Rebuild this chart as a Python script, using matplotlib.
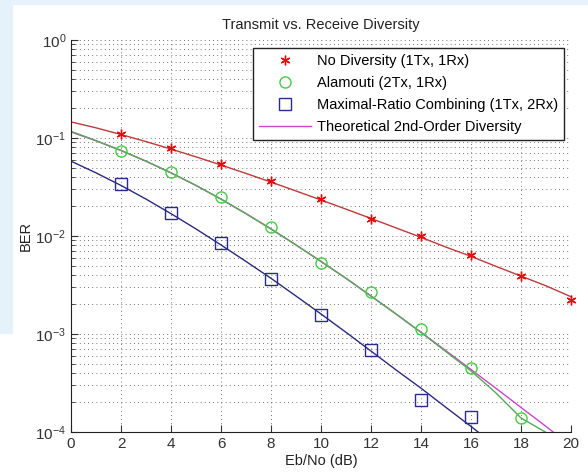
import numpy as np
import matplotlib
matplotlib.use('Agg')
import matplotlib.pyplot as plt
from matplotlib.patches import Rectangle
from matplotlib.ticker import FixedLocator, FixedFormatter, NullFormatter

plt.rcParams['font.family'] = ['Liberation Sans', 'DejaVu Sans']
plt.rcParams['mathtext.fontset'] = 'custom'
plt.rcParams['mathtext.rm'] = 'Liberation Sans'
plt.rcParams['mathtext.it'] = 'Liberation Sans'

# curves (fitted / theoretical), one value per dB
snr_line = [0, 1, 2, 3, 4, 5, 6, 7, 8, 9, 10, 11, 12, 13, 14, 15, 16, 17, 18, 19, 20]
ber_nodiv_line = [0.146, 0.127, 0.1085, 0.0919, 0.0771, 0.0642, 0.053, 0.0435, 0.0355, 0.0288,
                  0.0233, 0.0188, 0.0151, 0.0121, 0.0097, 0.0077, 0.0062, 0.0049, 0.0039,
                  0.0031, 0.0024]
ber_alamouti_line = [0.117, 0.094, 0.0746, 0.058, 0.0441, 0.0328, 0.0238, 0.0169, 0.0118,
                     0.0081, 0.0055, 0.0037, 0.00244, 0.0016, 0.00104, 0.00066, 0.00042,
                     0.00025, 0.000139, 0.000099, 0.00007]
ber_mrc_line = [0.058, 0.0441, 0.0328, 0.0238, 0.0169, 0.0118, 0.0081, 0.0055, 0.0037,
                0.00244, 0.0016, 0.00104, 0.00067, 0.00043, 0.00028, 0.000178, 0.000114,
                0.000072, 0.000046, 0.000029, 0.000018]
ber_theory_line = [0.1152, 0.0937, 0.0746, 0.058, 0.0441, 0.0328, 0.0238, 0.0169, 0.0118,
                   0.0081, 0.0055, 0.0037, 0.00244, 0.0016, 0.00104, 0.000674, 0.000434,
                   0.000279, 0.000178, 0.000114, 0.000072]

# simulated points (only the ones inside the plot)
snr_nodiv = [2, 4, 6, 8, 10, 12, 14, 16, 18, 20]
ber_nodiv = [0.11, 0.079, 0.054, 0.036, 0.024, 0.015, 0.0099, 0.0064, 0.0039, 0.0022]
snr_alamouti = [2, 4, 6, 8, 10, 12, 14, 16, 18]
ber_alamouti = [0.073, 0.045, 0.025, 0.0123, 0.0053, 0.0027, 0.00112, 0.00045, 0.000139]
snr_mrc = [2, 4, 6, 8, 10, 12, 14, 16]
ber_mrc = [0.034, 0.017, 0.0085, 0.0036, 0.00156, 0.00068, 0.000214, 0.000142]

fig = plt.figure(figsize=(5.88, 4.75), dpi=100)
# faint blue background bits at the edges
fig.patches.append(Rectangle((0, 0.30), 0.02, 0.70, transform=fig.transFigure,
                             color='#e6f2fb', zorder=-5))
fig.patches.append(Rectangle((0, 0.992), 1.0, 0.008, transform=fig.transFigure,
                             color='#e6f2fb', zorder=-5))

ax = fig.add_axes([71 / 588, 1 - 432 / 475, 500 / 588, 392 / 475])
ax.set_yscale('log')

ax.plot(snr_line, ber_nodiv_line, color='#c03838', lw=1.0)
ax.plot(snr_line, ber_theory_line, color='#cc44cc', lw=1.0)
ax.plot(snr_line, ber_alamouti_line, color='#55aa55', lw=1.0)
ax.plot(snr_line, ber_mrc_line, color='#2a2a80', lw=1.0)

h1, = ax.plot(snr_nodiv, ber_nodiv, ls='none', marker=(6, 2, 0), color='#e01010', ms=7, mew=1.0,
              clip_on=False, label='No Diversity (1Tx, 1Rx)')
h2, = ax.plot(snr_alamouti, ber_alamouti, 'o', mfc='none', mec='#44cc44', ms=8, mew=1.0,
              clip_on=False, label='Alamouti (2Tx, 1Rx)')
h3, = ax.plot(snr_mrc, ber_mrc, 's', mfc='none', mec='#2a2a90', ms=8, mew=1.0,
              clip_on=False, label='Maximal-Ratio Combining (1Tx, 2Rx)')
h4, = ax.plot([], [], color='#cc44cc', lw=1.0, label='Theoretical 2nd-Order Diversity')

ax.set_xlim(0, 20)
ax.set_ylim(1e-4, 1)
ax.xaxis.set_major_locator(FixedLocator([0, 2, 4, 6, 8, 10, 12, 14, 16, 18, 20]))
ax.yaxis.set_major_locator(FixedLocator([1e-4, 1e-3, 1e-2, 1e-1, 1]))
ax.yaxis.set_major_formatter(FixedFormatter([r'$10^{-4}$', r'$10^{-3}$', r'$10^{-2}$', r'$10^{-1}$', r'$10^{0}$']))
minor = [m * 10.0 ** e for e in range(-4, 0) for m in range(2, 10)]
ax.yaxis.set_minor_locator(FixedLocator(minor))
ax.yaxis.set_minor_formatter(NullFormatter())

ax.grid(True, which='major', color='#444444', ls=(0, (1, 4)), lw=0.6)
ax.grid(True, which='minor', axis='y', color='#444444', ls=(0, (1, 4)), lw=0.6)
ax.tick_params(which='both', direction='in', top=False, right=False, labelsize=11, colors='#333333')
ax.tick_params(which='major', length=5)
ax.tick_params(which='minor', length=3)
ax.spines['top'].set_visible(False)
ax.spines['right'].set_visible(False)
ax.spines['left'].set_color('#222222')
ax.spines['bottom'].set_color('#222222')

ax.set_title('Transmit vs. Receive Diversity', fontsize=10.5, color='#222222', pad=8)
ax.set_xlabel('Eb/No (dB)', fontsize=10.5, color='#222222', labelpad=2)
ax.set_ylabel('BER', fontsize=10.5, color='#222222', labelpad=2)

leg = ax.legend(handles=[h1, h2, h3, h4], loc='upper right', bbox_to_anchor=(0.986, 0.98),
                fontsize=10.5, frameon=True, fancybox=False, edgecolor='#222222',
                borderpad=0.4, labelspacing=0.55, handlelength=3.6, handletextpad=0.4,
                borderaxespad=0)
leg.get_frame().set_linewidth(1.0)
leg.get_frame().set_alpha(1)

fig.savefig('out.png', dpi=100, facecolor='white')
